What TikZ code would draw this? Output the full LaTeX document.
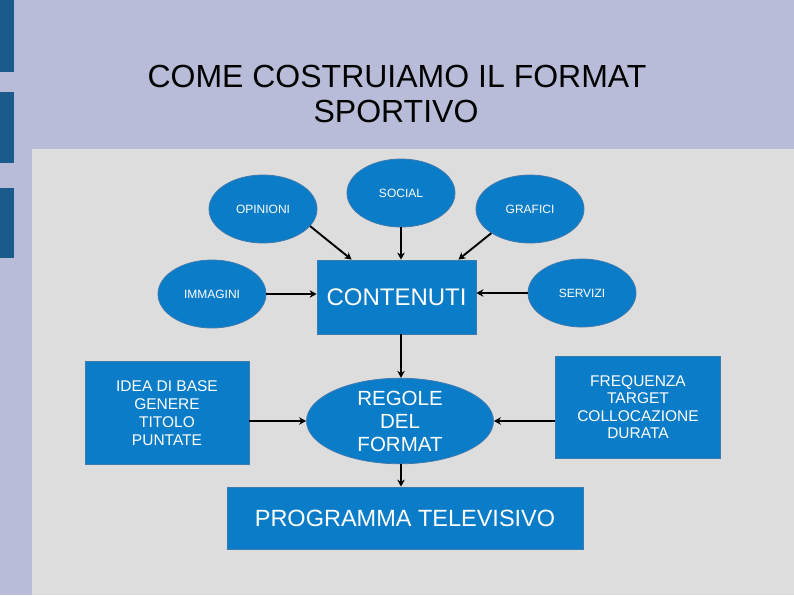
\documentclass[tikz,border=0pt]{standalone}
\usepackage{fontspec}
\setmainfont{Liberation Sans}
\usetikzlibrary{shapes.geometric,arrows.meta}
\definecolor{bgcol}{HTML}{B9BCD8}
\definecolor{panelcol}{HTML}{DDDDDD}
\definecolor{barcol}{HTML}{1B5B8B}
\definecolor{nodeblue}{HTML}{0B7CC7}
\definecolor{nodeedge}{HTML}{3F7AAE}
\begin{document}
\begin{tikzpicture}[x=1pt,y=-1pt,
  ell/.style={ellipse, fill=nodeblue, draw=nodeedge, line width=0.8pt, inner sep=0pt,
    text=white, minimum width=108pt, minimum height=68pt, font=\fontsize{12}{14}\selectfont},
  box/.style={rectangle, fill=nodeblue, draw=nodeedge, line width=0.8pt, inner sep=0pt,
    text=white, align=center},
  arr/.style={-{Stealth[length=7pt,width=7.5pt]}, line width=1.9pt, black},
  titlefont/.style={font=\fontsize{32}{35}\selectfont, anchor=base}]
\useasboundingbox (0,0) rectangle (794,595);
\fill[bgcol] (0,0) rectangle (794,595);
\fill[panelcol] (32,149) rectangle (794,595);
\fill[barcol] (0,0) rectangle (14,72);
\fill[barcol] (0,92) rectangle (14,163);
\fill[barcol] (0,188) rectangle (14,258);
\node[titlefont] (t1) at (397,87) {COME COSTRUIAMO IL FORMAT};
\node[titlefont] (t2) at (396,122) {SPORTIVO};
% nodes
\node[ell] (op) at (263,209) {OPINIONI};
\node[ell] (so) at (401,193) {SOCIAL};
\node[ell] (gr) at (530,209) {GRAFICI};
\node[ell] (im) at (212,294) {IMMAGINI};
\node[ell] (sv) at (582,293) {SERVIZI};
\node[box, minimum width=159pt, minimum height=74pt, font=\fontsize{24}{26}\selectfont] (cont) at (396.5,297) {CONTENUTI};
\node[ellipse, fill=nodeblue, draw=nodeedge, line width=0.8pt, inner sep=0pt, text=white,
  minimum width=187pt, minimum height=85pt, align=center,
  font=\fontsize{20.5}{23}\selectfont] (reg) at (400,421) {REGOLE\\DEL\\FORMAT};
\node[box, minimum width=164pt, minimum height=103pt, font=\fontsize{15.5}{18}\selectfont] (idea) at (167,413) {IDEA DI BASE\\GENERE\\TITOLO\\PUNTATE};
\node[box, minimum width=165pt, minimum height=102pt, font=\fontsize{15.5}{17.5}\selectfont] (fr) at (638,407) {FREQUENZA\\TARGET\\COLLOCAZIONE\\DURATA};
\node[box, minimum width=356pt, minimum height=62pt, font=\fontsize{23.5}{26}\selectfont] (prog) at (405,518) {PROGRAMMA TELEVISIVO};
% connectors
\draw[arr] (op.-20) -- ([xshift=35pt]cont.north west);
\draw[arr] (so.south) -- (so.south |- cont.north);
\draw[arr] (gr.212) -- ([xshift=-18pt]cont.north east);
\draw[arr] (im.east) -- (im.east -| cont.west);
\draw[arr] (sv.west) -- (sv.west -| cont.east);
\draw[arr] (cont.south -| so) -- (reg.north -| so);
\draw[arr] (idea.east |- reg.center) -- (reg.west);
\draw[arr] (fr.west |- reg.center) -- (reg.east);
\draw[arr] (reg.south -| so) -- (prog.north -| so);
\end{tikzpicture}
\end{document}
